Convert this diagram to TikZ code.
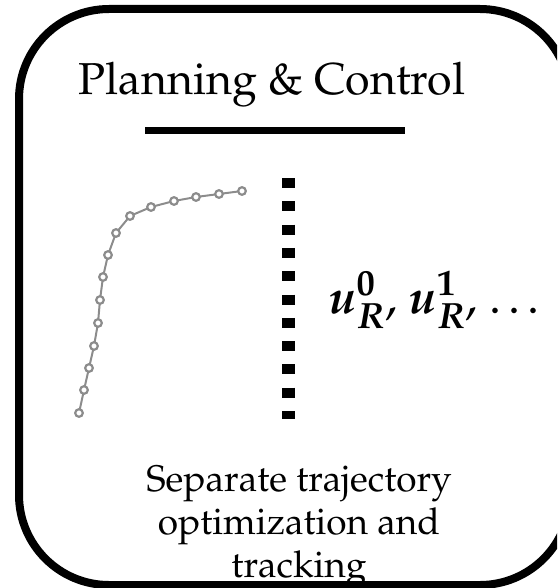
\documentclass[tikz,border=0pt]{standalone}
\usepackage[T1]{fontenc}
\usepackage{mathpazo}
\usepackage{bm}
\begin{document}
\begin{tikzpicture}[x=1pt,y=-1pt]
\useasboundingbox (0,0) rectangle (557,588);
\clip (0,0) rectangle (557,588);
\draw[line width=8pt,rounded corners=90pt] (19,9) rectangle (570,585);
\node[anchor=base] (title) at (272,95) {\fontsize{44.7}{54}\selectfont Planning \& Control};
\draw[line width=7pt] (145,131)--(405,131);
\draw[line width=13pt,dash pattern=on 10pt off 13.3pt] (288,178)--(288,419);
\draw[gray!90,line width=2pt] plot coordinates {(79,413) (84,390) (89,368) (94,346) (98,323) (100,300) (103,277) (108,255) (116,233) (130,216) (151,207) (174,201) (196,197) (219,194) (242,191)};
\foreach \p in {(79,413),(84,390),(89,368),(94,346),(98,323),(100,300),(103,277),(108,255),(116,233),(130,216),(151,207),(174,201),(196,197),(219,194),(242,191)}
  \draw[gray!90,line width=2.2pt,fill=white] \p circle (3.8pt);
\node[anchor=base] (ctrl) at (438,313) {\fontsize{48}{56}\selectfont $\bm{u_R^0}$, $\bm{u_R^1}$, \ldots};
\node[anchor=base,align=center,font=\fontsize{37}{43}\selectfont] (note) at (299,577) {Separate trajectory\\ optimization and\\ tracking};
\end{tikzpicture}
\end{document}
